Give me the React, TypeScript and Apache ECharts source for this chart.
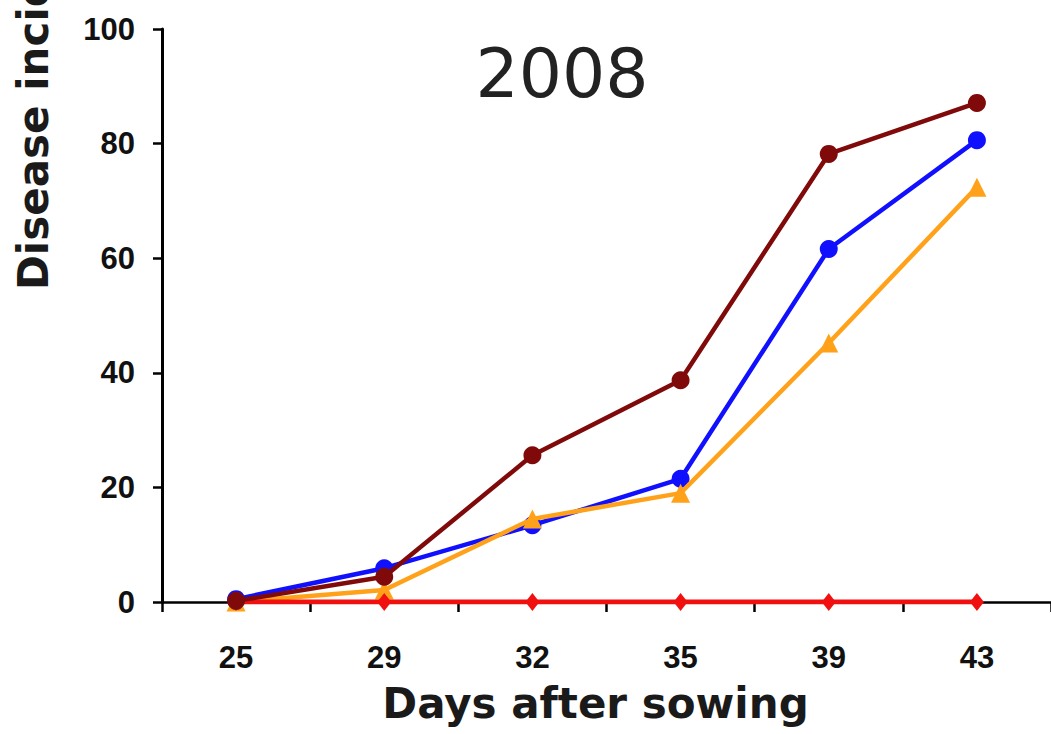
import React, { useEffect, useRef } from "react";
import * as echarts from "echarts";

const days = ["25", "29", "32", "35", "39", "43"];
const maroonSeries = [0.2, 4.4, 25.6, 38.7, 78.2, 87.1];
const blueSeries = [0.5, 5.9, 13.4, 21.5, 61.6, 80.6];
const orangeSeries = [0, 2.1, 14.5, 19.0, 45.2, 72.4];
const redSeries = [0, 0, 0, 0, 0, 0];
const titleText = "2008";
const xName = "Days after sowing";
const yName = "Disease incidence (%)";

const FONT = "'DejaVu Sans', sans-serif";
const LABEL_FONT = "'Liberation Sans', Arial, sans-serif";

export default function App() {
  const ref = useRef<HTMLDivElement>(null);
  useEffect(() => {
    if (!ref.current) return;
    const chart = echarts.init(ref.current, undefined, { renderer: "svg" });
    const lineSeries = (
      name: string,
      data: number[],
      color: string,
      symbol: string,
      size: number | number[],
      width: number,
      z: number
    ) => ({
      name,
      type: "line",
      data,
      symbol,
      symbolSize: size,
      z,
      lineStyle: { color, width },
      itemStyle: { color, borderWidth: 0 },
    });
    chart.setOption({
      animation: false,
      backgroundColor: "#ffffff",
      title: {
        text: titleText,
        left: 557,
        top: 34,
        textAlign: "center",
        textStyle: { fontFamily: FONT, fontSize: 68, fontWeight: "normal", color: "#222" },
      },
      grid: { left: 162, top: 29, width: 892, height: 573 },
      xAxis: {
        type: "category",
        data: days,
        boundaryGap: true,
        name: xName,
        nameLocation: "middle",
        nameGap: 80,
        nameTextStyle: { fontFamily: FONT, fontSize: 42, fontWeight: "bold", color: "#1a1a1a", padding: [0, 22, 0, 0] },
        axisLine: { lineStyle: { color: "#000", width: 2.5 } },
        axisTick: { show: true, alignWithLabel: false, length: 10, lineStyle: { color: "#000", width: 2.5 } },
        axisLabel: { margin: 40, fontFamily: LABEL_FONT, fontSize: 31, fontWeight: "bold", color: "#111" },
        splitLine: { show: false },
      },
      yAxis: {
        type: "value",
        min: 0,
        max: 100,
        interval: 20,
        axisLine: { show: true, lineStyle: { color: "#000", width: 3 } },
        axisTick: { show: true, length: 9, lineStyle: { color: "#000", width: 2.5 } },
        axisLabel: { margin: 27, fontFamily: LABEL_FONT, fontSize: 31, fontWeight: "bold", color: "#111" },
        splitLine: { show: false },
      },
      graphic: [
        {
          type: "text",
          x: 33,
          y: 290,
          rotation: Math.PI / 2,
          style: {
            text: yName,
            fontFamily: FONT,
            fontSize: 42,
            fontWeight: "bold",
            fill: "#1a1a1a",
            textAlign: "left",
            textVerticalAlign: "middle",
          },
        },
      ],
      series: [
        lineSeries("Blue", blueSeries, "#1010ff", "circle", 18, 4.5, 2),
        lineSeries("Orange", orangeSeries, "#ffa21a", "triangle", 19, 4.5, 3),
        lineSeries("Red", redSeries, "#f01010", "diamond", [14, 18], 5, 4),
        lineSeries("Maroon", maroonSeries, "#800a0a", "circle", 18, 4.5, 5),
      ],
    });
    return () => chart.dispose();
  }, []);
  return <div ref={ref} style={{ width: 1051, height: 734, position: "absolute", left: 0, top: 0 }} />;
}
